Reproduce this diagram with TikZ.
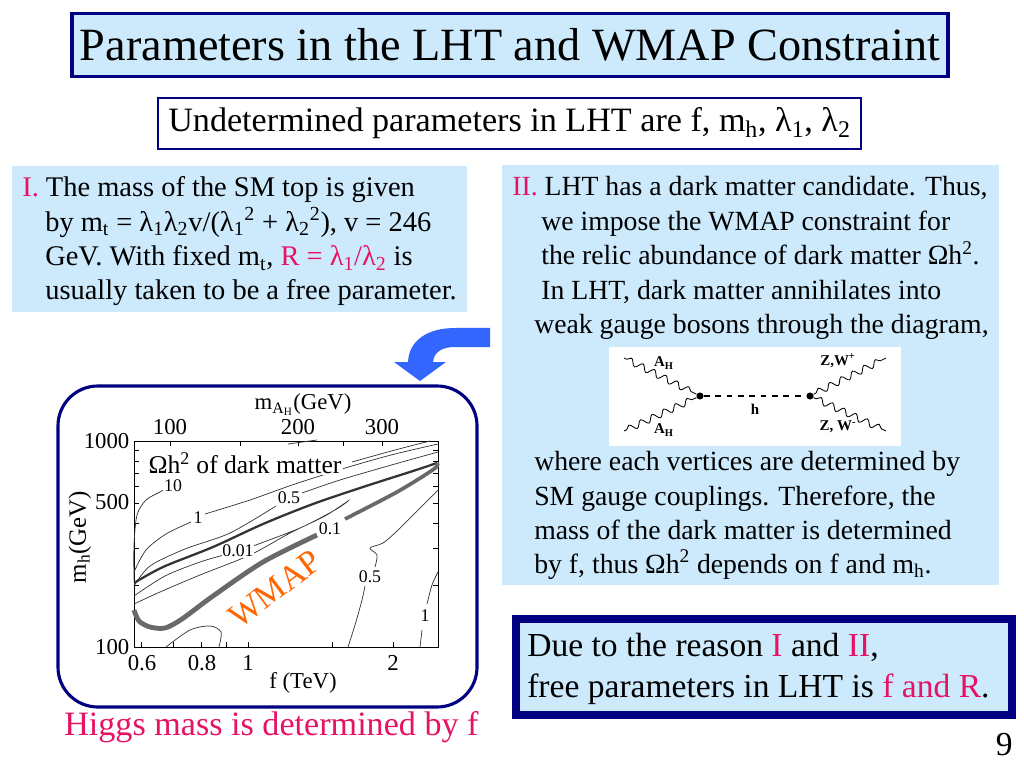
\documentclass[tikz,border=0pt]{standalone}
\usepackage{fontspec}
\setmainfont{Liberation Serif}
\usetikzlibrary{positioning,decorations.pathmorphing,calc}
\definecolor{navy}{RGB}{0,0,128}
\definecolor{paleblue}{RGB}{204,234,252}
\definecolor{hotpink}{RGB}{230,18,100}
\definecolor{arrowblue}{RGB}{51,102,255}
\definecolor{wmaporange}{RGB}{255,102,0}
\definecolor{bandgray}{RGB}{105,105,105}
\newcommand{\dn}[1]{\textsubscript{#1}}
\newcommand{\hi}[1]{\textsuperscript{#1}}
\newcommand{\pk}[1]{\textcolor{hotpink}{#1}}

\begin{document}
\begin{tikzpicture}[x=0.703125pt, y=-0.703125pt,
  txt/.style={anchor=base west, inner sep=0pt, font=\fontsize{20}{24}\selectfont},
  txtii/.style={anchor=base west, inner sep=0pt, font=\fontsize{19.5}{24}\selectfont},
  big/.style={anchor=base west, inner sep=0pt, font=\fontsize{23.6}{28}\selectfont},
  tick/.style={font=\fontsize{16}{18}\selectfont, inner sep=1pt},
  clab/.style={font=\fontsize{12.5}{14}\selectfont, inner sep=0.5pt, fill=white},
  cline/.style={line width=0.5pt, black!80},
  feyn/.style={font=\bfseries\fontsize{10.5}{12}\selectfont, inner sep=1pt},
  vtx/.style={circle, fill=black, inner sep=0pt, minimum size=5pt},
  wavy/.style={decorate, decoration={snake, amplitude=2.3pt, segment length=9pt, pre length=2pt, post length=2pt}, line width=0.6pt}]
\useasboundingbox (0,0) rectangle (1024,768);
\fill[white] (0,0) rectangle (1024,768);

% title and subtitle
\node[draw=navy, line width=2.2pt, fill=paleblue, minimum width=616pt, minimum height=44pt,
  font=\fontsize{32.5}{36}\selectfont] (title) at (510,45) {Parameters in the LHT and WMAP Constraint};
\node[draw=navy, line width=1.6pt, fill=white, minimum width=494pt, minimum height=36pt,
  font=\fontsize{24}{28}\selectfont] (undet) at (509.5,123.5)
  {Undetermined parameters in LHT are f, m\dn{h}, λ\dn{1}, λ\dn{2}};

% reason I
\fill[paleblue] (12,166) rectangle (467,312);
\node[txt] (i1) at (22,197) {\pk{I.} The mass of the SM top is given};
\node[txt] (i2) at (45,231.5) {by m\dn{t} = λ\dn{1}λ\dn{2}v/(λ\dn{1}\hi{2} + λ\dn{2}\hi{2}), v = 246};
\node[txt] (i3) at (45,266) {GeV. With fixed m\dn{t}, \pk{R = λ\dn{1}/λ\dn{2}} is};
\node[txt] (i4) at (45,300) {usually taken to be a free parameter.};

% reason II
\fill[paleblue] (502,165) rectangle (999,585);
\node[txtii] (ii1) at (512,196) {\pk{II.} LHT has a dark matter candidate. Thus,};
\node[txtii] (ii2) at (541,231) {we impose the WMAP constraint for};
\node[txtii] (ii3) at (541,265) {the relic abundance of dark matter Ωh\hi{2}.};
\node[txtii] (ii4) at (541,299) {In LHT, dark matter annihilates into};
\node[txtii] (ii5) at (534,333) {weak gauge bosons through the diagram,};
\node[txtii] (ii6) at (534,470) {where each vertices are determined by};
\node[txtii] (ii7) at (534,505) {SM gauge couplings. Therefore, the};
\node[txtii] (ii8) at (534,539) {mass of the dark matter is determined};
\node[txtii] (ii9) at (534,573) {by f, thus Ωh\hi{2} depends on f and m\dn{h}.};

% annihilation diagram
\fill[white] (609,347) rectangle (901,446);
\node[vtx] (vl) at (700,396) {};
\node[vtx] (vr) at (810,396) {};
\coordinate (ahu) at (624,358);
\coordinate (ahd) at (624,431);
\coordinate (zwu) at (886,358);
\coordinate (zwd) at (886,431);
\draw[wavy] (ahu) -- (vl);
\draw[wavy] (ahd) -- (vl);
\draw[wavy] (vr) -- (zwu);
\draw[wavy] (vr) -- (zwd);
\draw[dashed, line width=0.8pt, dash pattern=on 4pt off 4pt] (vl) -- node[feyn, below=4pt] {h} (vr);
\node[feyn] (lah1) at (664,363) {A\dn{H}};
\node[feyn] (lah2) at (664,430) {A\dn{H}};
\node[feyn] (lzw1) at (838,361) {Z,W\hi{+}};
\node[feyn] (lzw2) at (838,427) {Z, W\hi{-}};

% bent arrow
\fill[arrowblue] (490,328) -- (455,328) .. controls (428,328) and (409,340) .. (408,362)
  -- (394,362) -- (420,381) -- (446,362) -- (433,362)
  .. controls (434,352) and (442,347) .. (455,347) -- (490,347) -- cycle;

% plot panel
\draw[navy, line width=2.2pt, rounded corners=28pt, fill=white] (58,386) rectangle (477,707);
\draw[line width=0.5pt] (134,441) rectangle (438,647);
\foreach \f in {0.6,0.7,0.8,0.9,1,1.5,2}
  \draw[line width=0.5pt] ({248+481.7*log10(\f)},647) -- ++(0,-5);
\foreach \xt in {170,240,298,343,382}
  \draw[line width=0.5pt] (\xt,441) -- ++(0,5);
\foreach \m in {200,300,400,500,600,700,800,900} {
  \draw[line width=0.5pt] (134,{647-206*log10(\m/100)}) -- ++(5,0);
  \draw[line width=0.5pt] (438,{647-206*log10(\m/100)}) -- ++(-5,0);
}
\node[tick, anchor=east] (y1000) at (131,441) {1000};
\node[tick, anchor=east] (y500) at (131,502) {500};
\node[tick, anchor=east] (y100) at (131,647) {100};
\node[tick, rotate=90, font=\fontsize{17.5}{19}\selectfont] (ylab) at (80,537) {m\dn{h}(GeV)};
\node[tick] (x06) at (142,663) {0.6};
\node[tick] (x08) at (202,663) {0.8};
\node[tick] (x1) at (248,663) {1};
\node[tick] (x2) at (393,663) {2};
\node[tick] (xlab) at (303,683) {f (TeV)};
\node[tick] (t100) at (170,427) {100};
\node[tick] (t200) at (298,427) {200};
\node[tick] (t300) at (382,427) {300};
\node[tick] (tlab) at (303,405) {m\dn{A\dn{H}}(GeV)};

% contours
\draw[line width=1.6pt, black!80] plot[smooth] coordinates {(134,583) (163,567) (213,547) (263,524) (313,504) (363,487) (413,471) (437,463)};
\draw[line width=2.6pt, bandgray] plot[smooth] coordinates {(437,463) (434,469) (397,492) (345,519)};
\draw[line width=3.4pt, bandgray] plot[smooth] coordinates {(317,535) (263,562) (213,596) (182,619) (165,628) (150,627) (139,621) (134,610)};
\draw[cline] plot[smooth] coordinates {(134,580) (134,545) (137,515) (146,500) (160,492) (167,488)};
\draw[cline] plot[smooth] coordinates {(134,572) (146,550) (166,534) (191,522)};
\draw[cline] plot[smooth] coordinates {(205,514) (250,500) (295,484) (352,466) (395,454) (438,444)};
\draw[cline] plot[smooth] coordinates {(134,586) (150,566) (185,549) (230,533) (276,506)};
\draw[cline] plot[smooth] coordinates {(302,493) (340,480) (395,464) (438,452)};
\draw[cline] plot[smooth] coordinates {(352,462) (395,450) (430,441)};
\draw[cline] plot[smooth] coordinates {(134,596) (165,576) (200,562) (224,555)};
\draw[cline] plot[smooth] coordinates {(253,546) (300,528) (335,510) (348,501) (325,516) (290,533) (250,555) (200,575) (160,592) (134,604)};
\draw[cline] plot[smooth] coordinates {(348,647) (355,625) (362,600) (365,586)};
\draw[cline] plot[smooth] coordinates {(375,567) (377,555) (370,548) (383,543) (397,531) (415,513) (438,490)};
\draw[cline] plot[smooth] coordinates {(420,647) (422,630)};
\draw[cline] plot[smooth] coordinates {(427,604) (432,585) (438,572)};
\draw[cline] plot[smooth] coordinates {(166,647) (190,630) (210,626) (221,632) (219,647)};
\draw[cline] (288,444) -- (317,440);
\node[clab] (c10) at (173,486) {10};
\node[clab] (c1) at (198,518) {1};
\node[clab] (c05) at (289,498) {0.5};
\node[clab] (c001) at (238,551) {0.01};
\node[clab] (c01) at (330,529) {0.1};
\node[clab] (c05r) at (370,577) {0.5};
\node[clab] (c1r) at (425,616) {1};
\node[fill=white, inner sep=1pt, font=\fontsize{18}{20}\selectfont] (omega) at (245,463) {Ωh\hi{2} of dark matter};
\node[rotate=37, text=wmaporange, font=\fontsize{24}{28}\selectfont] (wmap) at (275,589) {WMAP};

% conclusion
\node[txt, text=hotpink, font=\fontsize{24}{28}\selectfont] (higgs) at (64,735) {Higgs mass is determined by f};
\draw[navy, line width=5.3pt, fill=paleblue] (516,619) rectangle (1012,715);
\node[big] (due1) at (527,656) {Due to the reason \pk{I} and \pk{II},};
\node[big] (due2) at (527,697) {free parameters in LHT is \pk{f and R}.};
\node[big, anchor=base east] (page) at (1013,755) {9};
\end{tikzpicture}
\end{document}
